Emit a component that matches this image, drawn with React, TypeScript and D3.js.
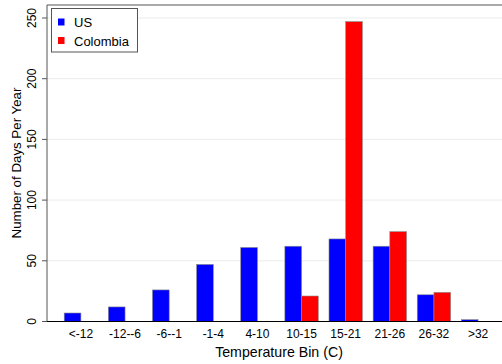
import React from "react";
import * as d3 from "d3";

const categories = ["<-12", "-12--6", "-6--1", "-1-4", "4-10", "10-15", "15-21", "21-26", "26-32", ">32"];
const usDays = [7, 12, 26, 47, 61, 62, 68, 62, 22, 1.5];
const colombiaDays = [0, 0, 0, 0, 0, 21, 247, 74, 24, 0];
const seriesNames = ["US", "Colombia"];
const seriesColors = ["#0000ff", "#ff0000"];
const yTicks = [0, 50, 100, 150, 200, 250];

const W = 502;
const H = 364;
const left = 47;
const right = 512;
const top = 5;
const bottom = 321.5;

export default function App() {
  const x = d3.scaleBand<string>().domain(categories).range([left, right]).paddingInner(0.243).paddingOuter(0.39);
  const sub = d3.scaleBand<string>().domain(seriesNames).range([0, x.bandwidth()]);
  const y = d3.scaleLinear().domain([0, 260.7]).range([bottom, top]);
  const values = [usDays, colombiaDays];
  const font = "'Liberation Sans', Arial, Helvetica, sans-serif";

  return (
    <svg width={W} height={H} style={{ position: "absolute", left: 0, top: 0 }} fontFamily={font}>
      <rect x={0} y={0} width={W} height={H} fill="#ffffff" />
      {/* gridlines */}
      {yTicks.filter((t) => t > 0).map((t) => (
        <line key={t} x1={left} x2={W} y1={y(t)} y2={y(t)} stroke="#ececec" strokeWidth={1} />
      ))}
      {/* bars */}
      {values.map((vals, si) =>
        categories.map((c, i) =>
          vals[i] > 0 ? (
            <rect
              key={`${si}-${c}`}
              x={(x(c) as number) + (sub(seriesNames[si]) as number)}
              y={y(vals[i])}
              width={sub.bandwidth()}
              height={bottom - y(vals[i])}
              fill={seriesColors[si]}
              stroke="#8a8a8a"
              strokeWidth={0.6}
            />
          ) : null
        )
      )}
      {/* frame */}
      <line x1={left} x2={W} y1={top} y2={top} stroke="#555555" strokeWidth={1} />
      <line x1={left} x2={left} y1={top} y2={bottom} stroke="#555555" strokeWidth={1} />
      <line x1={left} x2={W} y1={bottom} y2={bottom} stroke="#000000" strokeWidth={1.2} />
      {/* y axis ticks and labels */}
      {yTicks.map((t) => (
        <g key={t}>
          <line x1={left - 5} x2={left} y1={y(t)} y2={y(t)} stroke="#555555" strokeWidth={1} />
          <text
            transform={`translate(36,${y(t)}) rotate(-90)`}
            textAnchor="middle"
            fontSize={12}
            fill="#000"
          >
            {t}
          </text>
        </g>
      ))}
      <text transform={`translate(21,163) rotate(-90)`} textAnchor="middle" fontSize={13.3} fill="#000">
        Number of Days Per Year
      </text>
      {/* x labels */}
      {categories.map((c) => (
        <text key={c} x={(x(c) as number) + x.bandwidth() / 2} y={337.5} textAnchor="middle" fontSize={12} fill="#000">
          {c}
        </text>
      ))}
      <text x={279} y={356.5} textAnchor="middle" fontSize={14.2} fill="#000">
        Temperature Bin (C)
      </text>
      {/* legend */}
      <rect x={51.5} y={8.5} width={86} height={43.5} fill="#fff" stroke="#555555" strokeWidth={1} />
      {seriesNames.map((n, i) => (
        <g key={n}>
          <rect x={58} y={18.5 + i * 18.5} width={6.5} height={7} fill={seriesColors[i]} />
          <text x={74} y={27 + i * 18.5} fontSize={13} fill="#000">
            {n}
          </text>
        </g>
      ))}
    </svg>
  );
}
